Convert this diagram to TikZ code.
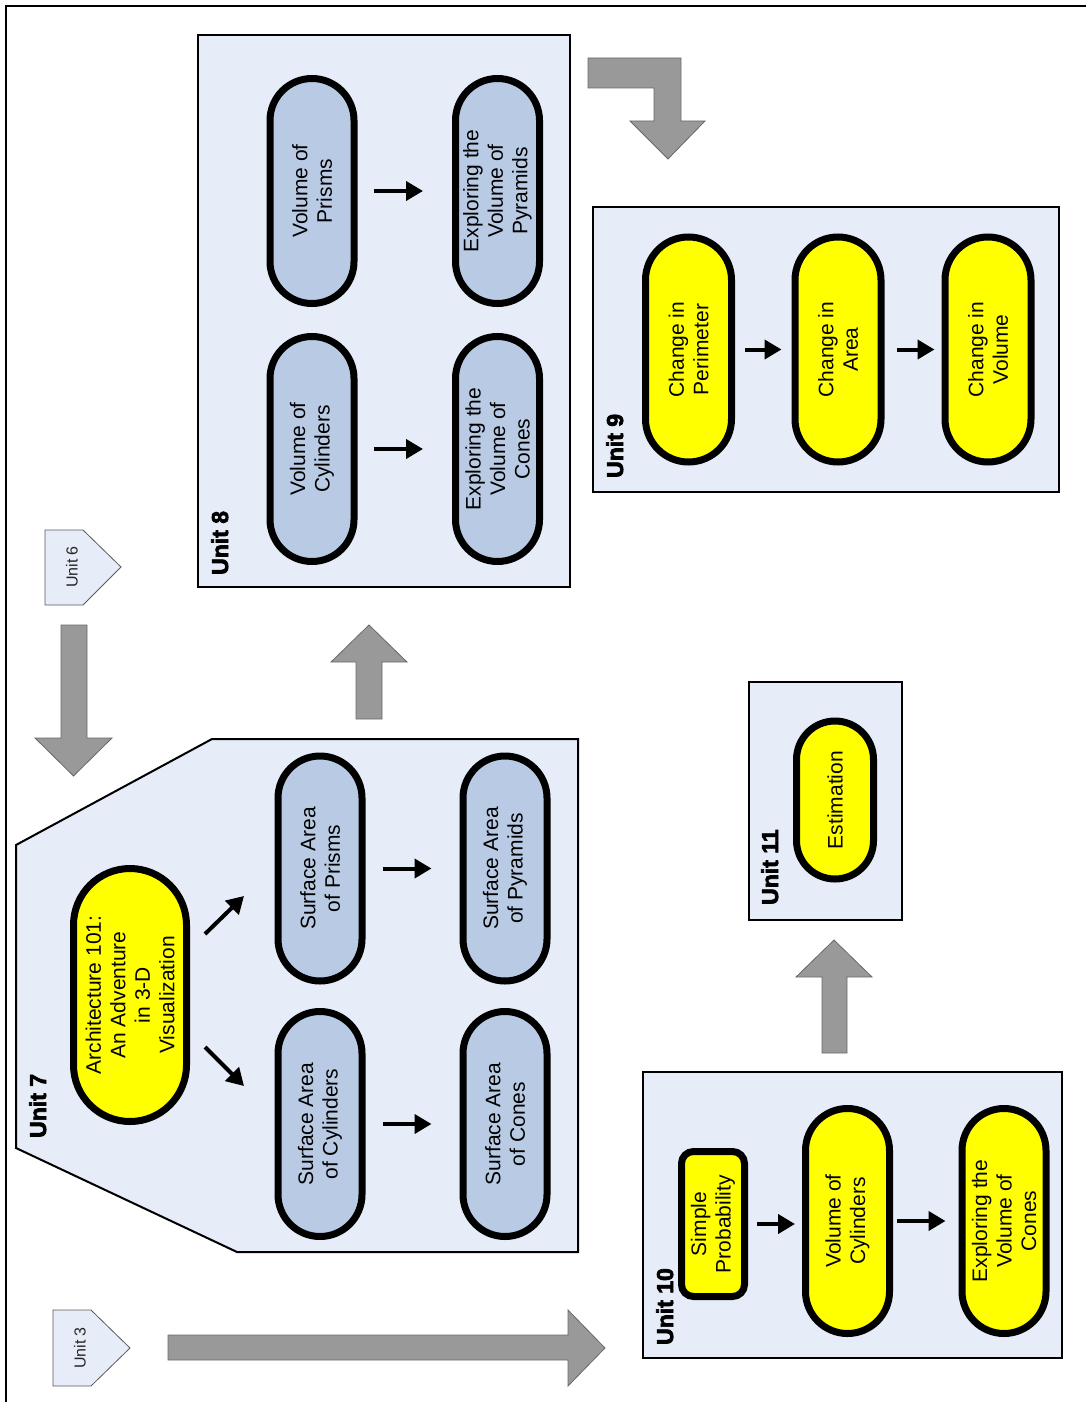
\documentclass[tikz,border=0pt]{standalone}
\usepackage{fontspec}
\setmainfont{Liberation Sans}
\newfontfamily\heavyfont{Liberation Sans Bold}[FakeBold=3]
\usetikzlibrary{arrows.meta}
\definecolor{boxbg}{RGB}{230,237,248}
\definecolor{pillblue}{RGB}{185,203,228}
\definecolor{pillyel}{RGB}{255,255,0}
\definecolor{blockgrey}{RGB}{153,153,153}
\definecolor{blockedge}{RGB}{105,105,105}
\definecolor{tagedge}{RGB}{90,90,90}
\begin{document}
\begin{tikzpicture}[x=1pt,y=-1pt,
  pillbase/.style={draw=black, line width=7pt, rotate=90, align=center, inner sep=0pt,
    font=\fontsize{21}{24.5}\selectfont},
  pill/.style={pillbase, minimum width=225pt, minimum height=84pt, rounded corners=42pt},
  bluepill/.style={pill, fill=pillblue},
  yelpill/.style={pill, fill=pillyel},
  unitbox/.style={draw=black, line width=2pt, fill=boxbg},
  unitlab/.style={rotate=90, anchor=base west, inner sep=0pt,
    font=\heavyfont\fontsize{23}{26}\selectfont},
  blockarrow/.style={fill=blockgrey, draw=blockedge, line width=0.8pt},
  tag/.style={fill=boxbg, draw=tagedge, line width=0.8pt},
  taglab/.style={rotate=90, inner sep=0pt, text=black!85, font=\fontsize{16}{18}\selectfont},
  blk/.style={draw=black, line width=4pt, -{Triangle[length=17pt,width=19pt]}}
]
\useasboundingbox (0,0) rectangle (1086,1402);
% outer frame
\draw[line width=2pt] (6,1402) -- (6,6) -- (1086,6);

% ---------- Unit 8 ----------
\draw[unitbox] (198,35) rectangle (570,587);
\node[unitlab] (u8) at (228,575) {Unit 8};
\node[bluepill] (vprism) at (312,191) {Volume of\\Prisms};
\node[bluepill] (vpyr) at (497.5,191) {Exploring the\\Volume of\\Pyramids};
\node[bluepill] (vcyl) at (312,449) {Volume of\\Cylinders};
\node[bluepill] (vcone) at (497.5,449) {Exploring the\\Volume of\\Cones};
\draw[blk, shorten <=16pt, shorten >=29pt] (vprism) -- (vpyr);
\draw[blk, shorten <=16pt, shorten >=29pt] (vcyl) -- (vcone);

% ---------- Unit 9 ----------
\draw[unitbox] (593,207) rectangle (1059,492);
\node[unitlab] (u9) at (623,478) {Unit 9};
\node[yelpill, minimum height=86pt, rounded corners=43pt] (cper) at (688.5,349.5) {Change in\\Perimeter};
\node[yelpill, minimum height=86pt, rounded corners=43pt] (carea) at (838,349.5) {Change in\\Area};
\node[yelpill, minimum height=86pt, rounded corners=43pt] (cvol) at (988,349.5) {Change in\\Volume};
\draw[blk, shorten <=10pt, shorten >=10pt] (cper) -- (carea);
\draw[blk, shorten <=12pt, shorten >=7pt] (carea) -- (cvol);

% bent arrow to Unit 9
\draw[blockarrow] (588,58) -- (681,58) -- (681,121) -- (705,121) -- (668,159)
  -- (630,121) -- (654,121) -- (654,88) -- (588,88) -- cycle;

% ---------- Unit 6 tag and arrow ----------
\draw[tag] (45,530) -- (83,530) -- (121,567) -- (83,605) -- (45,605) -- cycle;
\node[taglab] (t6) at (72,567) {Unit 6};
\draw[blockarrow] (61,625) -- (87,625) -- (87,738) -- (112,738) -- (73.5,776)
  -- (35,738) -- (61,738) -- cycle;

% ---------- Unit 7 ----------
\draw[unitbox] (212,739) -- (578,739) -- (578,1252) -- (237,1252) -- (16,1148) -- (16,845) -- cycle;
\node[unitlab] (u7) at (46,1138) {Unit 7};
\node[yelpill, minimum width=253pt, minimum height=113pt, rounded corners=56.5pt] (arch) at (130,995)
  {Architecture 101:\\An Adventure\\in 3-D\\Visualization};
\node[bluepill] (saprism) at (320,868.5) {Surface Area\\of Prisms};
\node[bluepill] (sapyr) at (505,868.5) {Surface Area\\of Pyramids};
\node[bluepill] (sacyl) at (320,1124) {Surface Area\\of Cylinders};
\node[bluepill] (sacone) at (505,1124) {Surface Area\\of Cones};
\coordinate (d1s) at (205,934);
\coordinate (d1e) at (244,896);
\coordinate (d2s) at (205,1047);
\coordinate (d2e) at (244,1086);
\draw[blk] (d1s) -- (d1e);
\draw[blk] (d2s) -- (d2e);
\draw[blk, shorten <=17pt, shorten >=28pt] (saprism) -- (sapyr);
\draw[blk, shorten <=17pt, shorten >=28pt] (sacyl) -- (sacone);

% up arrow Unit 7 -> Unit 8
\draw[blockarrow] (356,719) -- (382,719) -- (382,662) -- (407,662) -- (369,625)
  -- (331,662) -- (356,662) -- cycle;

% ---------- Unit 3 tag and long arrow ----------
\draw[tag] (53,1310) -- (91,1310) -- (130,1348) -- (91,1386) -- (53,1386) -- cycle;
\node[taglab] (t3) at (80,1348) {Unit 3};
\draw[blockarrow] (168,1335) -- (568,1335) -- (568,1310) -- (605,1348) -- (568,1386)
  -- (568,1360) -- (168,1360) -- cycle;

% ---------- Unit 10 ----------
\draw[unitbox] (643,1072) rectangle (1062,1358);
\node[unitlab] (u10) at (673,1345) {Unit 10};
\node[pillbase, fill=pillyel, minimum width=145pt, minimum height=63pt, rounded corners=12pt] (sprob) at (713,1224)
  {Simple\\Probability};
\node[yelpill] (vcyl2) at (847.5,1221) {Volume of\\Cylinders};
\node[yelpill] (vcone2) at (1004,1221) {Exploring the\\Volume of\\Cones};
\draw[blk, shorten <=9pt, shorten >=7pt] (sprob.south) -- (sprob.south -| vcyl2.north);
\draw[blk, shorten <=4pt, shorten >=13pt] (vcyl2) -- (vcone2);

% up arrow Unit 10 -> Unit 11
\draw[blockarrow] (822,1053) -- (847,1053) -- (847,977) -- (872,977) -- (834,940)
  -- (796,977) -- (822,977) -- cycle;

% ---------- Unit 11 ----------
\draw[unitbox] (749,682) rectangle (902,920);
\node[unitlab] (u11) at (778,905) {Unit 11};
\node[yelpill, minimum width=158pt, minimum height=77pt, rounded corners=38.5pt] (estim) at (835,800) {Estimation};
\end{tikzpicture}
\end{document}
